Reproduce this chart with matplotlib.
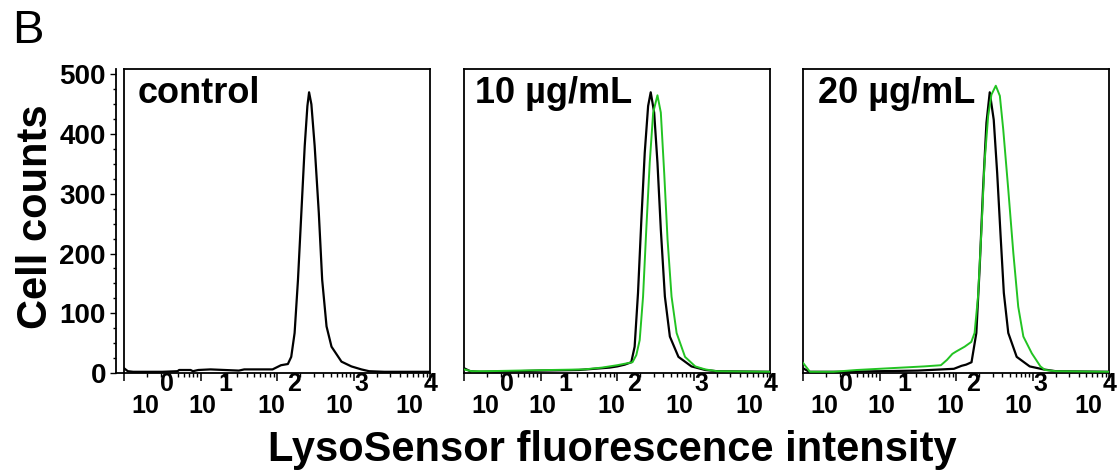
import numpy as np
import matplotlib
matplotlib.use("Agg")
import matplotlib.pyplot as plt
from matplotlib.ticker import LogLocator, NullFormatter, MultipleLocator, FixedLocator
from matplotlib.lines import Line2D

plt.rcParams['font.family'] = ['Liberation Sans', 'DejaVu Sans']
plt.rcParams['font.weight'] = 'bold'

panel_titles = ['control', '10 µg/mL', '20 µg/mL']

# x values are log10 of fluorescence intensity, y values are cell counts
# control (black) curves
ctrl1_x = [0.0, 0.05, 0.12, 0.5, 0.7, 0.72, 0.87, 0.9, 0.97, 1.13, 1.5, 1.57, 1.94, 2.05, 2.14,
           2.184, 2.228, 2.272, 2.316, 2.36, 2.395, 2.417, 2.447, 2.49, 2.544, 2.588, 2.645,
           2.71, 2.84, 2.97, 3.1, 3.2, 3.4, 4.0]
ctrl1_y = [8, 3, 2, 2, 3, 5, 5, 3, 5, 6, 4, 6, 6, 13, 15,
           27, 67, 156, 268, 380, 447, 470, 450, 380, 268, 156, 78,
           44, 19, 11, 6, 3, 2, 2]

ctrl2_x = [0.0, 0.08, 0.2, 0.7, 1.0, 1.5, 1.9, 2.0, 2.1, 2.184, 2.228, 2.272, 2.316, 2.36,
           2.404, 2.438, 2.483, 2.526, 2.57, 2.623, 2.688, 2.8, 2.97, 3.15, 3.3, 4.0]
ctrl2_y = [8, 3, 2, 3, 4, 5, 9, 11, 14, 18, 44, 134, 257, 369,
           447, 470, 436, 352, 240, 128, 61, 27, 11, 5, 3, 2]

ctrl3_x = [0.0, 0.08, 0.5, 1.0, 1.5, 1.97, 2.07, 2.13, 2.2, 2.263, 2.307, 2.35, 2.395, 2.438,
           2.49, 2.535, 2.58, 2.622, 2.68, 2.79, 2.96, 3.14, 3.3, 4.0]
ctrl3_y = [8, 2, 2, 3, 4, 7, 12, 14, 18, 67, 178, 307, 419, 470,
           424, 335, 229, 134, 67, 27, 11, 6, 3, 2]

# treated (green) curves
trt2_x = [0.0, 0.1, 0.3, 0.69, 1.13, 1.57, 1.8, 2.0, 2.16, 2.2, 2.25, 2.294, 2.338, 2.38,
          2.425, 2.47, 2.526, 2.57, 2.614, 2.658, 2.71, 2.776, 2.886, 3.02, 3.15, 3.3, 4.0]
trt2_y = [6, 3, 3, 4, 5, 6, 9, 13, 17, 18, 30, 55, 128, 240,
          352, 436, 465, 436, 335, 223, 128, 67, 27, 11, 6, 3, 2]

trt3_x = [0.0, 0.09, 0.4, 0.7, 1.14, 1.58, 1.8, 1.88, 1.95, 2.0, 2.11, 2.197, 2.24, 2.285,
          2.33, 2.37, 2.417, 2.46, 2.517, 2.57, 2.614, 2.68, 2.746, 2.81, 2.877, 2.987,
          3.1, 3.16, 3.3, 4.0]
trt3_y = [17, 2, 2, 5, 8, 11, 13, 22, 32, 36, 44, 52, 67, 128,
          240, 352, 430, 466, 481, 464, 408, 307, 201, 111, 61, 33,
          11, 5, 3, 2]

ctrl_x = [ctrl1_x, ctrl2_x, ctrl3_x]
ctrl_y = [ctrl1_y, ctrl2_y, ctrl3_y]
trt_x = [None, trt2_x, trt3_x]
trt_y = [None, trt2_y, trt3_y]

y_ticks = [0, 100, 200, 300, 400, 500]
x_exponents = ['0', '1', '2', '3', '4']

# odd placement of the "10" and exponent labels, as in the original figure
exp_pos = [0.141, 0.332, 0.556, 0.776, 1.0]
base_pos = [0.069, 0.257, 0.48, 0.704, 0.931]

fig = plt.figure(figsize=(11.2, 4.71), dpi=100)
lefts = [0.1107, 0.4143, 0.717]
green = '#22c322'

for i in range(3):
    ax = fig.add_axes([lefts[i], 0.2081, 0.2735, 0.6454])
    ax.plot(10 ** np.array(ctrl_x[i]), ctrl_y[i], color='black', lw=1.6, zorder=3)
    if trt_x[i] is not None:
        ax.plot(10 ** np.array(trt_x[i]), trt_y[i], color=green, lw=1.4, zorder=4)

    ax.set_xscale('log')
    ax.set_xlim(1, 1e4)
    ax.set_ylim(0, 509)
    ax.xaxis.set_major_locator(LogLocator(base=10, numticks=10))
    ax.xaxis.set_minor_locator(LogLocator(base=10, subs=np.arange(2, 10), numticks=20))
    ax.xaxis.set_major_formatter(NullFormatter())
    ax.xaxis.set_minor_formatter(NullFormatter())
    ax.tick_params(axis='x', which='major', direction='out', length=6, width=1.1, top=False)
    ax.tick_params(axis='x', which='minor', direction='out', length=3, width=1.0, top=False)

    for sp in ax.spines.values():
        sp.set_linewidth(1.3)

    if i == 0:
        ax.spines['left'].set_position(('outward', 6))
        ax.add_line(Line2D([0, 0], [0, 1], transform=ax.transAxes, color='black',
                           lw=1.3, clip_on=False))
        ax.add_line(Line2D([-0.027, 0], [0, 0], transform=ax.transAxes, color='black',
                           lw=1.3, clip_on=False))
        ax.yaxis.set_major_locator(FixedLocator(y_ticks))
        ax.yaxis.set_minor_locator(MultipleLocator(25))
        ax.set_yticklabels([str(v) for v in y_ticks], fontsize=20, fontweight='bold')
        ax.tick_params(axis='y', which='major', direction='out', length=4, width=1.0, pad=3)
        ax.tick_params(axis='y', which='minor', direction='out', length=2.5, width=1.0)
    else:
        ax.set_yticks([])
        ax.tick_params(axis='y', which='minor', left=False)

    for e, p in zip(x_exponents, exp_pos):
        ax.text(p, -0.035, e, transform=ax.transAxes, ha='center', va='center',
                fontsize=18, fontweight='bold')
    for p in base_pos:
        ax.text(p, -0.11, '10', transform=ax.transAxes, ha='center', va='center',
                fontsize=18, fontweight='bold')

    title_x = [0.043, 0.036, 0.049][i]
    ax.text(title_x, 0.888, panel_titles[i], transform=ax.transAxes, ha='left',
            va='baseline', fontsize=26, fontweight='bold')

fig.text(0.011, 0.909, 'B', fontsize=34, fontweight='normal', va='baseline', ha='left')
fig.text(0.032, 0.54, 'Cell counts', rotation=90, fontsize=30, fontweight='bold',
         ha='center', va='center')
fig.text(0.547, 0.021, 'LysoSensor fluorescence intensity', fontsize=30,
         fontweight='bold', ha='center', va='baseline')

fig.savefig('out.png', dpi=100)
